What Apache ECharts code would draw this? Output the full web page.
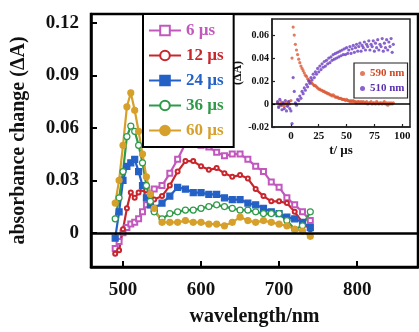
<!DOCTYPE html>
<html>
<head>
<meta charset="utf-8">
<script src="https://cdn.jsdelivr.net/npm/echarts@6/dist/echarts.min.js"></script>
<style>
  html, body { margin: 0; padding: 0; background: #fff; }
  #main { width: 419px; height: 332px; }
</style>
</head>
<body>
<div id="main"></div>
<script>
// wavelengths (nm)
var wl = [490, 495, 500, 505, 510, 515, 520, 525, 530, 535, 540, 550, 560, 570, 580, 590, 600,
  610, 620, 630, 640, 650, 660, 670, 680, 690, 700, 710, 720, 730, 740]

var s6 = [-0.009, -0.005, 0.0, 0.003, 0.005, 0.006, 0.008, 0.012, 0.016, 0.022, 0.025, 0.027, 0.034,
  0.042, 0.051, 0.054, 0.050, 0.049, 0.046, 0.044, 0.045, 0.045, 0.042, 0.038, 0.035, 0.029, 0.026,
  0.020, 0.016, 0.012, 0.007]
var s12 = [-0.012, -0.010, 0.002, 0.014, 0.023, 0.020, 0.023, 0.025, 0.022, 0.020, 0.019, 0.021, 0.027,
  0.035, 0.041, 0.041, 0.038, 0.036, 0.037, 0.034, 0.032, 0.033, 0.031, 0.025, 0.021, 0.018, 0.018,
  0.017, 0.012, 0.006, 0.002]
var s24 = [-0.003, 0.012, 0.030, 0.038, 0.040, 0.042, 0.035, 0.027, 0.020, 0.016, 0.014, 0.017, 0.021,
  0.026, 0.025, 0.023, 0.023, 0.022, 0.022, 0.020, 0.019, 0.019, 0.017, 0.016, 0.014, 0.012, 0.011,
  0.009, 0.008, 0.006, 0.003]
var s36 = [0.008, 0.020, 0.035, 0.055, 0.061, 0.058, 0.050, 0.040, 0.027, 0.018, 0.012, 0.008, 0.011,
  0.012, 0.013, 0.013, 0.014, 0.015, 0.016, 0.015, 0.014, 0.013, 0.013, 0.012, 0.011, 0.011, 0.011,
  0.007, 0.002, 0.004, 0.012]
var s60 = [0.017, 0.030, 0.050, 0.072, 0.080, 0.070, 0.058, 0.045, 0.032, 0.022, 0.014, 0.006, 0.006,
  0.006, 0.007, 0.006, 0.006, 0.005, 0.005, 0.004, 0.006, 0.009, 0.007, 0.006, 0.007, 0.006, 0.005,
  0.004, 0.002, 0.001, -0.002]

// inset: kinetics, t = -12 .. 92 us
var tms = []
for (var k = -12; k <= 92; k++) { tms.push(k) }

var k590 = [0.001, -0.002, 0.000, 0.002, -0.001, 0.001, -0.002, 0.000, 0.001, -0.001, 0.002, 0.000,
  0.003, 0.040, 0.067, 0.060, 0.052, 0.047, 0.043, 0.039, 0.036, 0.033, 0.031, 0.029, 0.027, 0.025,
  0.024, 0.022, 0.021, 0.020, 0.019, 0.018, 0.017, 0.016, 0.016, 0.015, 0.014, 0.013, 0.013, 0.012,
  0.012, 0.011, 0.011, 0.010, 0.010, 0.009, 0.009, 0.008, 0.008, 0.007, 0.008, 0.007, 0.006, 0.006,
  0.006, 0.005, 0.005, 0.005, 0.004, 0.004, 0.004, 0.003, 0.004,
  0.003, 0.003, 0.002, 0.003, 0.002, 0.003, 0.002, 0.002, 0.001, 0.002, 0.002, 0.001, 0.002, 0.001,
  0.002, 0.001, 0.001, 0.002, 0.000, 0.001, 0.001, 0.002, 0.000, 0.001, 0.001, 0.000, 0.002, 0.001,
  0.000, 0.001, 0.001, 0.000, 0.001, 0.002, 0.000, 0.001, -0.001, 0.001, 0.000, 0.001, 0.000, 0.001]
var k510 = [0.002, -0.003, 0.004, -0.001, -0.005, 0.001, -0.004, 0.003, -0.006, -0.002, 0.002, -0.004,
  -0.006, -0.017, 0.023, 0.011, 0.001, -0.001, 0.004, 0.003, 0.007, 0.005, 0.011, 0.009, 0.014, 0.012,
  0.017, 0.015, 0.020, 0.018, 0.023, 0.021, 0.026, 0.023, 0.028, 0.026, 0.031, 0.028, 0.033, 0.030,
  0.035, 0.032, 0.037, 0.033, 0.038, 0.035, 0.040, 0.036, 0.041, 0.038, 0.043, 0.039, 0.044, 0.040,
  0.045, 0.041, 0.046, 0.042, 0.047, 0.043, 0.048, 0.043, 0.049, 0.044, 0.047, 0.050, 0.044, 0.048,
  0.051, 0.045, 0.049, 0.052, 0.046, 0.050, 0.053, 0.046, 0.051, 0.049, 0.054, 0.047, 0.052, 0.050,
  0.055, 0.047, 0.052, 0.050, 0.055, 0.046, 0.053, 0.049, 0.056, 0.047, 0.052, 0.050, 0.057, 0.046,
  0.053, 0.049, 0.056, 0.047, 0.054, 0.050, 0.057, 0.045, 0.052]

var yTicks = [0, 0.03, 0.06, 0.09, 0.12]
var xTicks = [500, 600, 700, 800]
var tTicks = [0, 25, 50, 75, 100]
var dTicks = [-0.02, 0, 0.02, 0.04, 0.06]

var FONT = 'Liberation Serif, Times New Roman, serif'

function pairs (xs, ys) {
  var out = []
  for (var i in xs) { out.push([xs[i], ys[i]]) }
  return out
}

var chart = echarts.init(document.getElementById('main'))

function mainLine (name, vals, color, symbol, size, fill) {
  return {
    name: name,
    type: 'line',
    xAxisIndex: 0,
    yAxisIndex: 0,
    data: pairs(wl, vals),
    symbol: symbol,
    symbolSize: size,
    lineStyle: { color: color, width: 2.2 },
    itemStyle: { color: fill || color, borderColor: color, borderWidth: 1.2 },
    emphasis: { disabled: true }
  }
}

var series = [
  mainLine('6 µs', s6, '#c258be', 'emptyRect', 5),
  mainLine('12 µs', s12, '#c8262c', 'emptyCircle', 4),
  mainLine('24 µs', s24, '#2461c6', 'rect', 6),
  mainLine('36 µs', s36, '#2e9a48', 'circle', 6, '#fff'),
  mainLine('60 µs', s60, '#d6a02a', 'circle', 6)
]
series[0].markLine = {
  silent: true, symbol: 'none', label: { show: false },
  lineStyle: { color: '#000', width: 2.5, type: 'solid' },
  data: [{ yAxis: 0 }]
}
series.push({
  name: '590 nm', type: 'scatter', xAxisIndex: 1, yAxisIndex: 1,
  data: pairs(tms, k590), symbolSize: 3.2,
  itemStyle: { color: '#dc5a36' },
  markLine: {
    silent: true, symbol: 'none', label: { show: false },
    lineStyle: { color: '#000', width: 1.6, type: 'solid' },
    data: [{ yAxis: 0 }]
  }
})
series.push({
  name: '510 nm', type: 'scatter', xAxisIndex: 1, yAxisIndex: 1,
  data: pairs(tms, k510), symbolSize: 3.2,
  itemStyle: { color: '#6a3cc0' }
})

var option = {
  animation: false,
  backgroundColor: '#fff',
  textStyle: { fontFamily: FONT },
  grid: [
    { left: 91, top: 14, right: 1, bottom: 59, show: true, borderColor: '#000', borderWidth: 2.5 },
    { left: 272, top: 19, right: 9, bottom: 205, show: true, borderColor: '#222', borderWidth: 1.5,
      backgroundColor: '#fff' }
  ],
  legend: [
    {
      left: 143, top: 14, orient: 'vertical',
      itemWidth: 32, itemHeight: 12, itemGap: 8,
      padding: [8, 10, 8, 5],
      borderColor: '#000', borderWidth: 2, backgroundColor: '#fff',
      textStyle: { fontFamily: FONT, fontWeight: 'bold', fontSize: 17 },
      data: [
        { name: '6 µs', textStyle: { color: '#c258be' } },
        { name: '12 µs', textStyle: { color: '#c8262c' } },
        { name: '24 µs', textStyle: { color: '#2461c6' } },
        { name: '36 µs', textStyle: { color: '#2e9a48' } },
        { name: '60 µs', textStyle: { color: '#d6a02a' } }
      ]
    },
    {
      left: 354, top: 63, orient: 'vertical', z: 10,
      itemWidth: 5, itemHeight: 5, itemGap: 4, icon: 'circle',
      padding: [5, 3, 4, 6],
      borderColor: '#222', borderWidth: 1.2, backgroundColor: '#fff',
      textStyle: { fontFamily: FONT, fontWeight: 'bold', fontSize: 11 },
      data: [
        { name: '590 nm', textStyle: { color: '#d04a26' } },
        { name: '510 nm', textStyle: { color: '#5a30b0' } }
      ]
    }
  ],
  xAxis: [
    {
      type: 'value', gridIndex: 0, min: 459, max: 878,
      name: 'wavelength/nm', nameLocation: 'middle', nameGap: 40,
      nameTextStyle: { fontFamily: FONT, fontWeight: 'bold', fontSize: 20, color: '#111' },
      axisLine: { show: true, onZero: false, lineStyle: { color: '#000', width: 2.5 } },
      axisTick: { show: true, inside: true, length: 6, customValues: xTicks, lineStyle: { color: '#000', width: 2 } },
      axisLabel: { customValues: xTicks, margin: 14, fontFamily: FONT, fontWeight: 'bold', fontSize: 19, color: '#111' },
      splitLine: { show: false }
    },
    {
      type: 'value', gridIndex: 1, min: -17, max: 107,
      name: 't/ µs', nameLocation: 'middle', nameGap: 17,
      nameTextStyle: { fontFamily: FONT, fontWeight: 'bold', fontSize: 13, color: '#111' },
      axisLine: { show: true, onZero: false, lineStyle: { color: '#222', width: 1.5 } },
      axisTick: { show: true, inside: true, length: 3, customValues: tTicks, lineStyle: { color: '#222', width: 1.2 } },
      axisLabel: { customValues: tTicks, margin: 4, fontFamily: FONT, fontWeight: 'bold', fontSize: 11, color: '#111' },
      splitLine: { show: false }
    }
  ],
  yAxis: [
    {
      type: 'value', gridIndex: 0, min: -0.0195, max: 0.125,
      name: 'absorbance change (ΔA)', nameLocation: 'middle', nameGap: 62, nameRotate: 90,
      nameTextStyle: { fontFamily: FONT, fontWeight: 'bold', fontSize: 20, color: '#111' },
      axisLine: { show: true, onZero: false, lineStyle: { color: '#000', width: 2.5 } },
      axisTick: { show: true, inside: true, length: 6, customValues: yTicks, lineStyle: { color: '#000', width: 2 } },
      axisLabel: {
        customValues: yTicks, margin: 12, fontFamily: FONT, fontWeight: 'bold', fontSize: 19, color: '#111',
        formatter: function (v) { return v === 0 ? '0' : v.toFixed(2) }
      },
      splitLine: { show: false }
    },
    {
      type: 'value', gridIndex: 1, min: -0.02, max: 0.074,
      name: '(ΔA)', nameLocation: 'middle', nameGap: 27, nameRotate: 90,
      nameTextStyle: { fontFamily: FONT, fontWeight: 'bold', fontSize: 12, color: '#111' },
      axisLine: { show: true, onZero: false, lineStyle: { color: '#222', width: 1.5 } },
      axisTick: { show: true, inside: true, length: 3, customValues: dTicks, lineStyle: { color: '#222', width: 1.2 } },
      axisLabel: {
        customValues: dTicks, margin: 3, fontFamily: FONT, fontWeight: 'bold', fontSize: 10, color: '#111',
        formatter: function (v) { return v === 0 ? '0' : v.toFixed(2) }
      },
      splitLine: { show: false }
    }
  ],
  series: series
}

chart.setOption(option)
</script>
</body>
</html>
